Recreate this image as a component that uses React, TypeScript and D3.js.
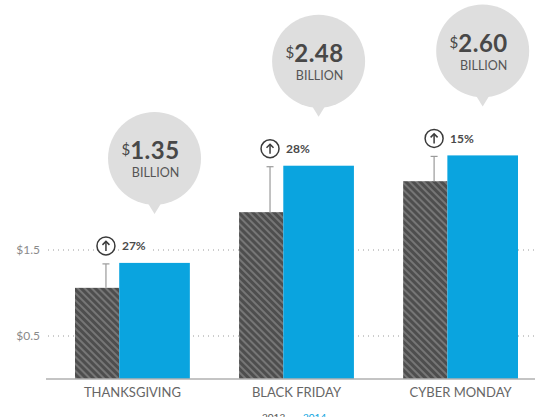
import React from "react";
import * as d3 from "d3";

const categories = ["THANKSGIVING", "BLACK FRIDAY", "CYBER MONDAY"];
const values2013 = [1.06, 1.94, 2.3];
const values2014 = [1.35, 2.48, 2.6];
const growthLabels = ["27%", "28%", "15%"];
const bubbleLabels = ["1.35", "2.48", "2.60"];
const yTicks = [0.5, 1.5];
const yTickLabels = ["$0.5", "$1.5"];
const legendLabels = ["2013", "2014"];

const W = 535;
const H = 417;
const BLUE = "#0aa4df";
const FONT = "Lato, 'Open Sans', sans-serif";

export default function App() {
  const x = d3.scaleBand<string>().domain(categories).range([75, 518]).paddingInner(0.3).paddingOuter(0);
  const y = d3.scaleLinear().domain([0, 3]).range([379, 121]);
  const bw = x.bandwidth();
  const grayW = bw * 0.385;
  const blueW = bw - grayW;

  return (
    <svg width={W} height={H} style={{ position: "absolute", left: 0, top: 0, background: "#fff" }} fontFamily={FONT}>
      <defs>
        <pattern id="hatch" patternUnits="userSpaceOnUse" width={5} height={5} patternTransform="rotate(-45)">
          <rect width={5} height={5} fill="#4e4e4e" />
          <rect width={2} height={5} fill="#767676" />
        </pattern>
      </defs>

      {/* gridlines */}
      {yTicks.map((t, i) => (
        <g key={t}>
          <line x1={48} x2={W} y1={y(t)} y2={y(t)} stroke="#9a9a9a" strokeWidth={1} strokeDasharray="1,4" />
          <text x={40} y={y(t) + 4} textAnchor="end" fontSize={12} fill="#8a8a8a">{yTickLabels[i]}</text>
        </g>
      ))}

      {/* bars */}
      {categories.map((c, i) => {
        const gx = x(c)!;
        const bx = gx + grayW;
        const gTop = y(values2013[i]);
        const bTop = y(values2014[i]);
        const ix = gx + grayW * 0.7;
        const iy = bTop - 17;
        const bcx = bx + blueW / 2;
        const tip = bTop - 49;
        const r = 46.5;
        const bcy = tip - r - 9;
        return (
          <g key={c}>
            <rect x={gx} y={gTop} width={grayW} height={y(0) - gTop} fill="url(#hatch)" />
            <rect x={bx} y={bTop} width={blueW} height={y(0) - bTop} fill={BLUE} />

            {/* growth indicator */}
            <line x1={ix} x2={ix} y1={bTop + 1} y2={gTop} stroke="#9a9a9a" strokeWidth={1.2} />
            <line x1={ix - 3.5} x2={ix + 3.5} y1={bTop + 1} y2={bTop + 1} stroke="#9a9a9a" strokeWidth={1.2} />
            <circle cx={ix} cy={iy} r={9} fill="#fff" stroke="#3a3a3a" strokeWidth={1.5} />
            <line x1={ix} x2={ix} y1={iy + 5} y2={iy - 4.5} stroke="#3a3a3a" strokeWidth={1.5} />
            <polyline points={`${ix - 3.5},${iy - 1} ${ix},${iy - 4.5} ${ix + 3.5},${iy - 1}`} fill="none" stroke="#3a3a3a" strokeWidth={1.5} />
            <rect x={ix + 14} y={iy - 7} width={30} height={13} fill="#fff" />
            <text x={ix + 16} y={iy + 4.5} fontSize={12} fontWeight={700} fill="#4a4a4a">{growthLabels[i]}</text>

            {/* bubble */}
            <circle cx={bcx} cy={bcy} r={r} fill="#dedede" />
            <polygon points={`${bcx - 8},${bcy + r - 4} ${bcx + 8},${bcy + r - 4} ${bcx},${tip}`} fill="#dedede" />
            <text x={bcx - 4} y={bcy + 1} textAnchor="middle" fill="#484848">
              <tspan fontSize={15} dy={0} baselineShift="4">$</tspan>
              <tspan fontSize={24} fontWeight={700} letterSpacing={0.5}>{bubbleLabels[i]}</tspan>
            </text>
            <text x={bcx + 1} y={bcy + 19} textAnchor="middle" fontSize={12.5} fill="#555">BILLION</text>

            {/* category label */}
            <text x={gx + bw / 2} y={397} textAnchor="middle" fontSize={13} fill="#666">{c}</text>
          </g>
        );
      })}

      {/* baseline */}
      <line x1={46} x2={W} y1={y(0)} y2={y(0)} stroke="#b0b0b0" strokeWidth={1.5} />

      {/* legend */}
      <text x={262} y={421} fontSize={10} fill="#555">{legendLabels[0]}</text>
      <text x={303} y={421} fontSize={10} fill={BLUE}>{legendLabels[1]}</text>
    </svg>
  );
}
